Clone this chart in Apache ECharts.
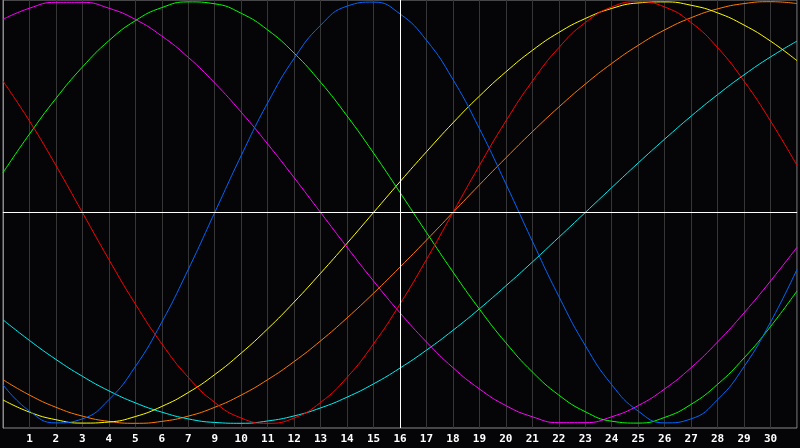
<!DOCTYPE html>
<html>
<head>
<meta charset="utf-8">
<script src="https://cdn.jsdelivr.net/npm/echarts@6/dist/echarts.min.js"></script>
<style>
  html, body { margin: 0; padding: 0; background: #050508; }
  #chart { width: 800px; height: 448px; }
</style>
</head>
<body>
<div id="chart"></div>
<script>
// positions on the x axis (one per grid column)
var days = [0, 1, 2, 3, 4, 5, 6, 7, 8, 9, 10, 11, 12, 13, 14, 15, 16, 17, 18, 19, 20,
  21, 22, 23, 24, 25, 26, 27, 28, 29, 30];

// labels shown under each vertical grid line
var tickLabels = ['', '1', '2', '3', '4', '5', '6', '7', '9', '10', '11', '12', '13', '14', '15',
  '16', '17', '18', '19', '20', '21', '22', '23', '24', '25', '26', '27', '28', '29', '30', ''];

var physical = [-0.817, -0.942, -0.998, -0.979, -0.888, -0.731, -0.520, -0.270, 0, 0.270,
  0.520, 0.731, 0.888, 0.979, 0.998, 0.942, 0.817, 0.631, 0.398, 0.136, -0.136,
  -0.398, -0.631, -0.817, -0.942, -0.998, -0.979, -0.888, -0.731, -0.520, -0.270];

var emotional = [0.623, 0.434, 0.223, 0, -0.223, -0.434, -0.623, -0.782, -0.901, -0.975,
  -1, -0.975, -0.901, -0.782, -0.623, -0.434, -0.223, 0, 0.223, 0.434, 0.623,
  0.782, 0.901, 0.975, 1, 0.975, 0.901, 0.782, 0.623, 0.434, 0.223];

var intellectual = [0.189, 0.372, 0.541, 0.690, 0.815, 0.910, 0.972, 0.999, 0.990, 0.945,
  0.866, 0.756, 0.618, 0.458, 0.282, 0.095, -0.095, -0.282, -0.458, -0.618, -0.756,
  -0.866, -0.945, -0.990, -0.999, -0.972, -0.910, -0.815, -0.690, -0.541, -0.372];

var intuitive = [0.916, 0.969, 0.997, 0.997, 0.969, 0.916, 0.837, 0.736, 0.614, 0.476,
  0.325, 0.165, 0, -0.165, -0.325, -0.476, -0.614, -0.736, -0.837, -0.916, -0.969,
  -0.997, -0.997, -0.969, -0.916, -0.837, -0.736, -0.614, -0.476, -0.325, -0.165];

var aesthetic = [-0.889, -0.947, -0.983, -0.999, -0.994, -0.968, -0.920, -0.854, -0.769, -0.667,
  -0.552, -0.425, -0.288, -0.146, 0, 0.146, 0.288, 0.425, 0.552, 0.667, 0.769,
  0.854, 0.920, 0.968, 0.994, 0.999, 0.983, 0.947, 0.889, 0.813, 0.720];

var awareness = [-0.793, -0.866, -0.924, -0.966, -0.991, -1, -0.991, -0.966, -0.924, -0.866,
  -0.793, -0.707, -0.609, -0.5, -0.383, -0.259, -0.131, 0, 0.131, 0.259, 0.383,
  0.5, 0.609, 0.707, 0.793, 0.866, 0.924, 0.966, 0.991, 1, 0.991];

var spiritual = [-0.509, -0.607, -0.697, -0.777, -0.846, -0.903, -0.947, -0.979, -0.996, -1.0,
  -0.989, -0.965, -0.927, -0.876, -0.813, -0.738, -0.653, -0.559, -0.457, -0.348, -0.235,
  -0.118, 0, 0.118, 0.235, 0.348, 0.457, 0.559, 0.653, 0.738, 0.813];

function pairs(values) {
  return days.map(function (d, i) { return [d, values[i]]; });
}

function curve(name, color, values) {
  return {
    name: name,
    type: 'line',
    smooth: true,
    symbol: 'none',
    color: color,
    lineStyle: { width: 1, color: color },
    data: pairs(values)
  };
}

var chart = echarts.init(document.getElementById('chart'));

var series = [
  curve('Spiritual', '#00f0f0', spiritual),
  curve('Awareness', '#ff7a00', awareness),
  curve('Aesthetic', '#ffff00', aesthetic),
  curve('Intuitive', '#ff00ff', intuitive),
  curve('Intellectual', '#00ff00', intellectual),
  curve('Physical', '#0066ff', physical),
  curve('Emotional', '#ff0000', emotional)
];

series[0].markLine = {
  silent: true,
  symbol: 'none',
  label: { show: false },
  lineStyle: { color: '#ffffff', width: 1, type: 'solid' },
  data: [{ yAxis: 0 }, { xAxis: 15 }]
};

var option = {
  backgroundColor: '#050508',
  animation: false,
  grid: {
    left: 0,
    right: -1,
    top: 0,
    bottom: 20,
    show: true,
    borderColor: '#8a8a8a',
    borderWidth: 1
  },
  xAxis: {
    type: 'value',
    min: 0,
    max: 30,
    interval: 1,
    axisLine: { show: true, lineStyle: { color: '#8a8a8a' } },
    axisTick: { show: false },
    splitLine: { show: true, lineStyle: { color: '#363636', width: 1 } },
    axisLabel: {
      color: '#ffffff',
      fontFamily: 'DejaVu Sans Mono',
      fontWeight: 'bold',
      fontSize: 11,
      margin: 6,
      formatter: function (v) { return tickLabels[v] || ''; }
    }
  },
  yAxis: {
    type: 'value',
    min: -1.0223,
    max: 1.008,
    axisLine: { show: true, lineStyle: { color: '#8a8a8a' } },
    axisTick: { show: false },
    axisLabel: { show: false },
    splitLine: { show: false }
  },
  series: series
};

chart.setOption(option);
</script>
</body>
</html>
